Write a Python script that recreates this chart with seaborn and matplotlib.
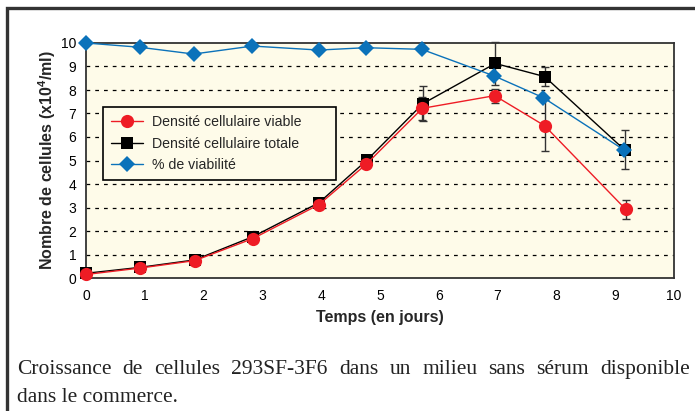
import matplotlib
matplotlib.use("Agg")
import matplotlib.pyplot as plt
import numpy as np
import pandas as pd
import seaborn as sns
from matplotlib.patches import Rectangle

# --- data ---
days_viable = [0.0, 0.91, 1.85, 2.84, 3.96, 4.77, 5.72, 6.95, 7.80, 9.18]
viable = [0.15, 0.42, 0.74, 1.68, 3.12, 4.85, 7.22, 7.76, 6.48, 2.92]
viable_err = [0, 0, 0, 0, 0, 0, 0.5, 0.3, 1.08, 0.41]

days_total = [0.0, 0.91, 1.85, 2.84, 3.96, 4.78, 5.73, 6.96, 7.80, 9.16]
total = [0.2, 0.45, 0.77, 1.76, 3.2, 5.02, 7.42, 9.13, 8.57, 5.45]
total_err = [0, 0, 0, 0, 0, 0, 0.76, 0.9, 0.42, 0.83]

days_viab = [0.0, 0.91, 1.83, 2.83, 3.96, 4.76, 5.71, 6.94, 7.78, 9.15]
viability = [10.0, 9.82, 9.53, 9.87, 9.70, 9.80, 9.73, 8.60, 7.67, 5.45]

x_ticks = list(range(0, 11))
y_ticks = list(range(0, 11))

label_viable = "Densité cellulaire viable"
label_total = "Densité cellulaire totale"
label_viab = "% de viabilité"
xlabel = "Temps (en jours)"
ylabel = "Nombre de cellules (x10$^4$/ml)"
caption_1 = "Croissance de cellules 293SF-3F6 dans un milieu sans sérum disponible"
caption_2 = "dans le commerce."

RED = "#EE1C25"
BLUE = "#0B72BA"
CREAM = "#FEFBE9"
FRAME = "#333333"

sns.set_theme(style="white")
plt.rcParams["font.family"] = ["Liberation Sans", "DejaVu Sans"]
plt.rcParams["mathtext.fontset"] = "custom"
plt.rcParams["mathtext.rm"] = "Liberation Sans:bold"
plt.rcParams["mathtext.it"] = "Liberation Sans:bold"
plt.rcParams["mathtext.bf"] = "Liberation Sans:bold"

fig = plt.figure(figsize=(6.95, 4.11), dpi=100)
W, H = 695, 411

# outer frame (top + left visible, rest cut by image)
fig.patches.append(Rectangle((7 / W, -0.1), 1.2, (411 - 8) / H + 0.1,
                             transform=fig.transFigure, fill=False,
                             edgecolor=FRAME, linewidth=2.4))

ax = fig.add_axes([86 / W, 1 - 278 / H, (674 - 86) / W, (278 - 43) / H])
ax.set_facecolor(CREAM)

df_total = pd.DataFrame({"x": days_total, "y": total})
df_viable = pd.DataFrame({"x": days_viable, "y": viable})
df_viab = pd.DataFrame({"x": days_viab, "y": viability})

ax.errorbar(days_total, total, yerr=total_err, fmt="none", ecolor="#333333",
            elinewidth=1, capsize=3, capthick=1, zorder=2, clip_on=False)
ax.errorbar(days_viable, viable, yerr=viable_err, fmt="none", ecolor="#333333",
            elinewidth=1, capsize=3, capthick=1, zorder=2, clip_on=False)

sns.lineplot(data=df_total, x="x", y="y", ax=ax, color="black", linewidth=1,
             marker="s", markersize=8.5, markeredgewidth=0, sort=False,
             label=label_total, zorder=3, clip_on=False)
sns.lineplot(data=df_viable, x="x", y="y", ax=ax, color=RED, linewidth=1,
             marker="o", markersize=9.5, markeredgewidth=0, sort=False,
             label=label_viable, zorder=4, clip_on=False)
sns.lineplot(data=df_viab, x="x", y="y", ax=ax, color=BLUE, linewidth=1,
             marker="D", markersize=8, markeredgewidth=0, sort=False,
             label=label_viab, zorder=5, clip_on=False)

ax.set_xlim(0, 10)
ax.set_ylim(0, 10)
ax.set_xticks(x_ticks)
ax.set_yticks(y_ticks)
ax.tick_params(axis="both", direction="out", length=4, width=1, color="#333333",
               labelsize=10, labelcolor="black", pad=4)
ax.tick_params(axis="y", pad=3)
for y in y_ticks[1:-1]:
    ax.axhline(y, color="black", linewidth=0.9, linestyle=(0, (3, 4)), zorder=1)
for s in ax.spines.values():
    s.set_color("#333333")
    s.set_linewidth(1.3)

ax.set_xlabel(xlabel, fontsize=11.5, fontweight="bold", labelpad=5)
ax.set_ylabel(ylabel, fontsize=11.5, fontweight="bold", labelpad=2)

# legend box stretched to the reference width (103..336 px, top at 107 px)
handles, labels = ax.get_legend_handles_labels()
order = [labels.index(label_viable), labels.index(label_total), labels.index(label_viab)]
leg_x = (103 - 86) / 588
leg_w = (336 - 103) / 588
leg_top = 1 - (107 - 43) / 235
leg = ax.legend([handles[i] for i in order], [labels[i] for i in order],
                loc="upper left", bbox_to_anchor=(leg_x, leg_top - 0.3, leg_w, 0.3),
                mode="expand",
                fontsize=10.2, frameon=True, fancybox=False, framealpha=1,
                facecolor=CREAM, edgecolor="black", borderpad=0.55,
                labelspacing=0.55, handlelength=2.25, handletextpad=0.65,
                borderaxespad=0)
leg.get_frame().set_linewidth(1.2)

# caption, first line justified
serif = ["Liberation Serif", "DejaVu Serif"]
words = caption_1.split(" ")
fig.canvas.draw()
renderer = fig.canvas.get_renderer()
texts = [fig.text(0, 0, w, fontsize=15.5, family=serif, color="#222222") for w in words]
widths = [t.get_window_extent(renderer).width for t in texts]
x0, x1 = 17, 690
gap = (x1 - x0 - sum(widths)) / (len(words) - 1)
xpos = x0
for t, w in zip(texts, widths):
    t.set_position((xpos / W, 1 - 374 / H))
    xpos += w + gap
fig.text(x0 / W, 1 - 402 / H, caption_2, fontsize=15.5, family=serif, color="#222222")

fig.savefig("out.png", dpi=100)
